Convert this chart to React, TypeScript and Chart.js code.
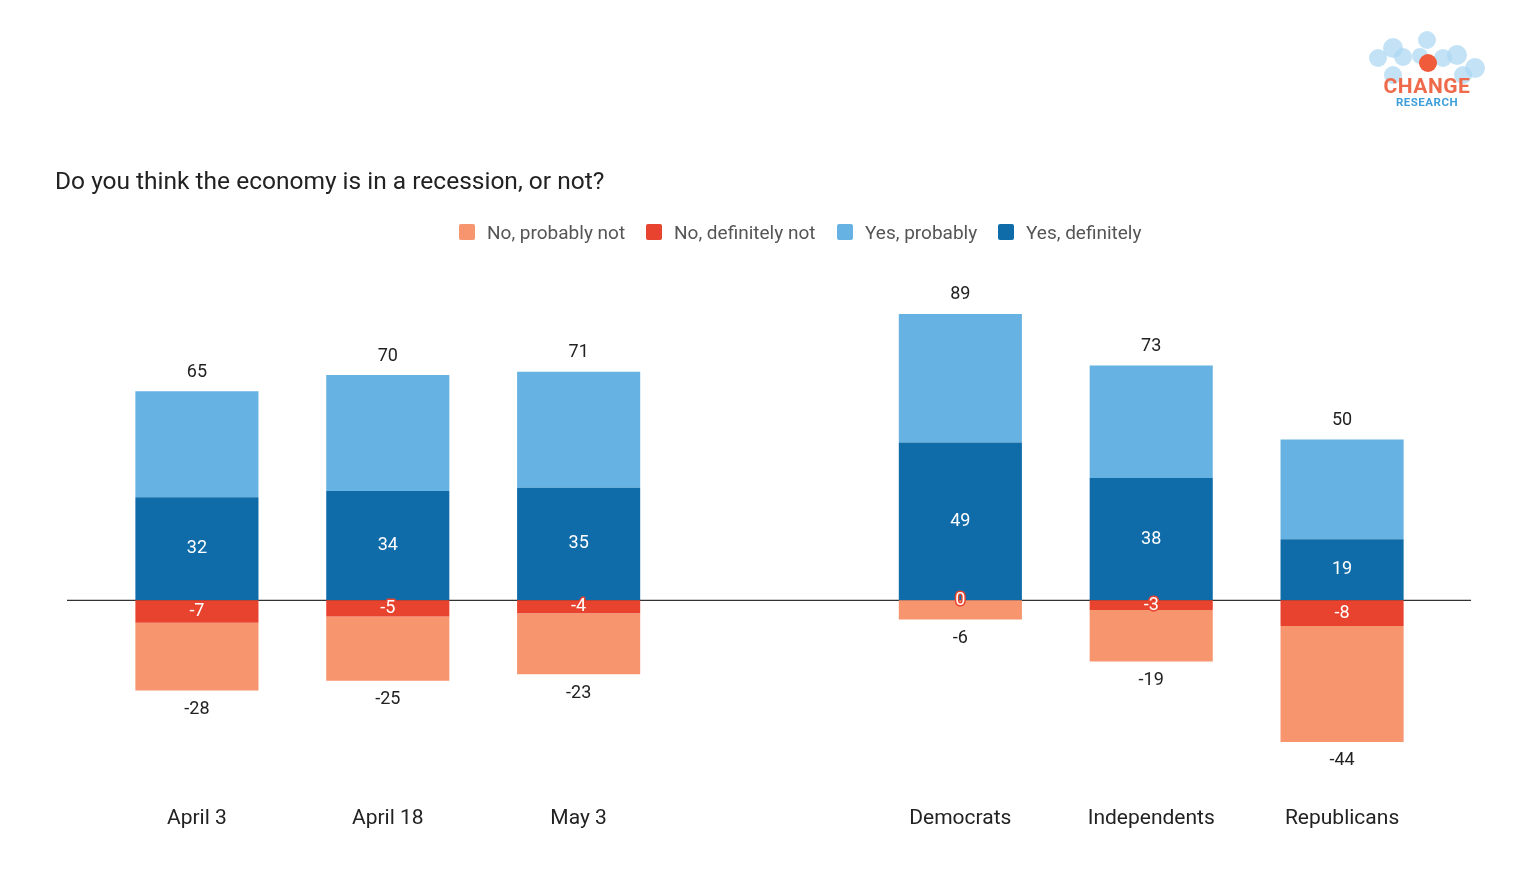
import React, { useEffect, useRef } from 'react';
import { Chart, registerables } from 'chart.js';

Chart.register(...registerables);

// Categories (blank slot separates the time series from the party breakdown)
const categories = ['April 3', 'April 18', 'May 3', '', 'Democrats', 'Independents', 'Republicans'];

// Series values
const yesDefinitely = [32, 34, 35, null, 49, 38, 19];
const yesProbably = [33, 36, 36, null, 40, 35, 31];
const noDefinitely = [-7, -5, -4, null, 0, -3, -8];
const noProbably = [-21, -20, -19, null, -6, -16, -36];

const legendItems = [
    { label: 'No, probably not', color: '#F6956E', left: 459 },
    { label: 'No, definitely not', color: '#E8432E', left: 646 },
    { label: 'Yes, probably', color: '#66B2E2', left: 837 },
    { label: 'Yes, definitely', color: '#106CA9', left: 998 }
];

const FONT = 'Roboto, "Noto Sans", sans-serif';

const labelPlugin = {
    id: 'barLabels',
    beforeDatasetsDraw(chart: any) {
        const { ctx } = chart;
        const y0 = chart.scales.y.getPixelForValue(0);
        ctx.save();
        ctx.strokeStyle = '#333';
        ctx.lineWidth = 1.3;
        ctx.beginPath();
        ctx.moveTo(67, y0);
        ctx.lineTo(1471, y0);
        ctx.stroke();
        ctx.restore();
    },
    afterDatasetsDraw(chart: any) {
        const { ctx } = chart;
        ctx.save();
        ctx.font = `18px ${FONT}`;
        ctx.textAlign = 'center';
        ctx.textBaseline = 'middle';
        categories.forEach((_, i) => {
            if (yesDefinitely[i] == null) return;
            const eNoDef = chart.getDatasetMeta(0).data[i];
            const eNoProb = chart.getDatasetMeta(1).data[i];
            const eDef = chart.getDatasetMeta(2).data[i];
            const eProb = chart.getDatasetMeta(3).data[i];
            const yesTotal = (yesDefinitely[i] as number) + (yesProbably[i] as number);
            const noTotal = (noDefinitely[i] as number) + (noProbably[i] as number);

            // totals
            ctx.fillStyle = '#222';
            ctx.fillText(String(yesTotal), eProb.x, eProb.y - 19);
            ctx.fillText(String(noTotal), eNoProb.x, eNoProb.y + 19);

            // yes, definitely
            ctx.fillStyle = '#fff';
            ctx.fillText(String(yesDefinitely[i]), eDef.x, (eDef.y + eDef.base) / 2);

            // no, definitely not (white with red halo)
            const ny = (eNoDef.y + eNoDef.base) / 2;
            ctx.strokeStyle = '#E8432E';
            ctx.lineWidth = 3;
            ctx.lineJoin = 'round';
            ctx.strokeText(String(noDefinitely[i]), eNoDef.x, ny);
            ctx.fillText(String(noDefinitely[i]), eNoDef.x, ny);
        });
        ctx.restore();
    }
};

const Logo: React.FC = () => (
    <svg width={130} height={90} viewBox="0 0 130 90" style={{ position: 'absolute', left: 1362, top: 26 }}>
        {[
            [31, 22, 10], [65, 14, 9], [16, 32, 9], [41, 31, 9], [95, 29, 10],
            [81, 32, 9], [113, 42, 10], [31, 49, 9], [101, 49, 9], [58, 30, 8]
        ].map(([cx, cy, r], k) => (
            <circle key={k} cx={cx} cy={cy} r={r} fill="#A9D6F2" fillOpacity={0.7} />
        ))}
        <circle cx={66} cy={37} r={9} fill="#EF5B3B" />
        <text x={65} y={67} textAnchor="middle" fontFamily={FONT} fontWeight={700} fontSize={21} fill="#EF6A4A" letterSpacing={0.5}>
            CHANGE
        </text>
        <text x={65} y={80} textAnchor="middle" fontFamily={FONT} fontWeight={700} fontSize={11.5} fill="#3E9FD9" letterSpacing={0.5}>
            RESEARCH
        </text>
    </svg>
);

const App: React.FC = () => {
    const chartRef = useRef<HTMLCanvasElement>(null);
    const chartInstance = useRef<Chart | null>(null);

    useEffect(() => {
        if (!chartRef.current) return;
        if (chartInstance.current) {
            chartInstance.current.destroy();
        }
        const ctx = chartRef.current.getContext('2d');
        if (!ctx) return;

        chartInstance.current = new Chart(ctx, {
            type: 'bar',
            data: {
                labels: categories,
                datasets: [
                    // negatives first so the 0 value stays at the baseline
                    { label: 'No, definitely not', data: noDefinitely, backgroundColor: '#E8432E' },
                    { label: 'No, probably not', data: noProbably, backgroundColor: '#F6956E' },
                    { label: 'Yes, definitely', data: yesDefinitely, backgroundColor: '#106CA9' },
                    { label: 'Yes, probably', data: yesProbably, backgroundColor: '#66B2E2' }
                ]
            },
            options: {
                animation: false,
                responsive: true,
                maintainAspectRatio: false,
                layout: {
                    padding: { top: 278.5, left: 101.5, right: 78.5, bottom: 21.5 }
                },
                datasets: {
                    bar: {
                        categoryPercentage: 1,
                        barPercentage: 0.645,
                        borderWidth: 0
                    }
                },
                plugins: {
                    legend: { display: false },
                    title: { display: false },
                    tooltip: { enabled: false }
                },
                scales: {
                    x: {
                        stacked: true,
                        grid: { display: false, drawTicks: false },
                        border: { display: false },
                        ticks: {
                            padding: 29,
                            color: '#222',
                            font: { family: FONT, size: 21 }
                        }
                    },
                    y: {
                        stacked: true,
                        display: false,
                        min: -55,
                        max: 100
                    }
                }
            },
            plugins: [labelPlugin]
        });

        return () => {
            if (chartInstance.current) {
                chartInstance.current.destroy();
                chartInstance.current = null;
            }
        };
    }, []);

    return (
        <div style={{ position: 'fixed', left: 0, top: 0, width: 1516, height: 882, background: '#fff', fontFamily: FONT }}>
            <canvas ref={chartRef} />
            <div style={{ position: 'absolute', left: 55, top: 166, fontSize: 24.5, color: '#222', lineHeight: '30px', whiteSpace: 'nowrap' }}>
                Do you think the economy is in a recession, or not?
            </div>
            {legendItems.map((item) => (
                <div
                    key={item.label}
                    style={{ position: 'absolute', left: item.left, top: 220, height: 24, display: 'flex', alignItems: 'center', whiteSpace: 'nowrap' }}
                >
                    <span style={{ width: 16, height: 16, borderRadius: 2, background: item.color, marginRight: 12 }} />
                    <span style={{ fontSize: 19, color: '#555' }}>{item.label}</span>
                </div>
            ))}
            <Logo />
        </div>
    );
};

export default App;
